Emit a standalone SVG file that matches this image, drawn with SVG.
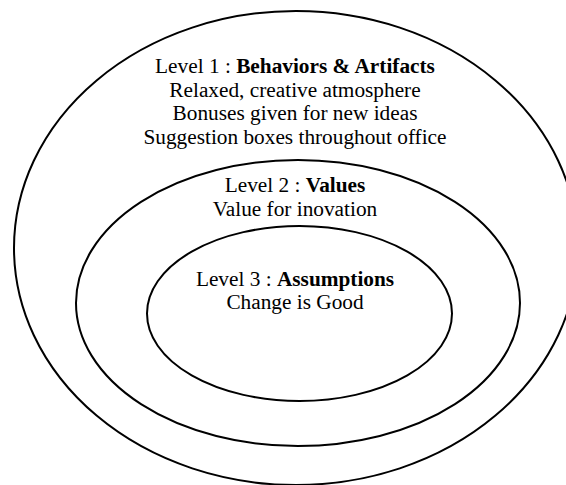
<svg xmlns="http://www.w3.org/2000/svg" width="566" height="485" viewBox="0 0 566 485">
  <style>
    .ring { fill: none; stroke: #000; stroke-width: 2; }
    .lbl { font-family: "Liberation Serif", "Times New Roman", serif; font-size: 21.3px; fill: #000; text-anchor: middle; }
    .lbl tspan.b { font-weight: bold; }
  </style>
  <rect width="566" height="485" fill="#fff"/>

  <!-- Level 1: outermost ring -->
  <g id="level1">
    <ellipse class="ring" cx="296" cy="248" rx="282" ry="237"/>
    <text class="lbl" x="295" y="73">Level 1 : <tspan class="b">Behaviors &amp; Artifacts</tspan></text>
    <text class="lbl" x="295" y="96.5">Relaxed, creative atmosphere</text>
    <text class="lbl" x="295" y="120">Bonuses given for new ideas</text>
    <text class="lbl" x="295" y="143.5">Suggestion boxes throughout office</text>
  </g>

  <!-- Level 2: middle ring -->
  <g id="level2">
    <ellipse class="ring" cx="298" cy="303" rx="222" ry="143"/>
    <text class="lbl" x="295" y="192">Level 2 : <tspan class="b">Values</tspan></text>
    <text class="lbl" x="295" y="215.5">Value for inovation</text>
  </g>

  <!-- Level 3: innermost ring -->
  <g id="level3">
    <ellipse class="ring" cx="299.5" cy="313.5" rx="152.5" ry="87.5"/>
    <text class="lbl" x="295" y="285.5">Level 3 : <tspan class="b">Assumptions</tspan></text>
    <text class="lbl" x="295" y="309">Change is Good</text>
  </g>

  <g id="connectors"/>
</svg>
